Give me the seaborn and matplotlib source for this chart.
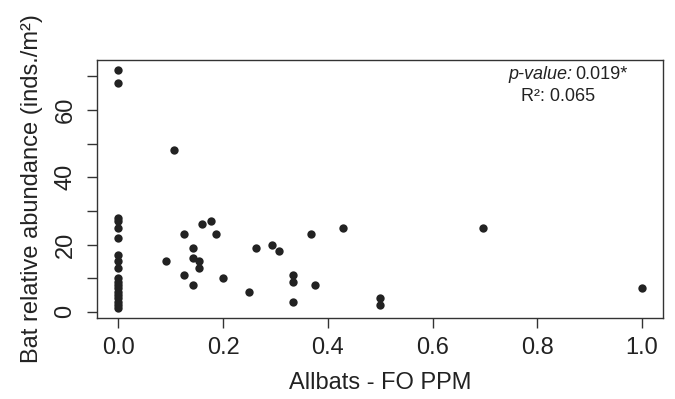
import pandas as pd
import matplotlib
matplotlib.use("Agg")
import matplotlib.pyplot as plt
import seaborn as sns

# data
fo_ppm = [0, 0, 0, 0, 0, 0, 0, 0, 0, 0, 0, 0, 0, 0, 0, 0, 0, 0, 0,
          0.091, 0.106, 0.125, 0.125, 0.1429, 0.1429, 0.1429, 0.1538, 0.1538,
          0.16, 0.1765, 0.1875, 0.2, 0.25, 0.2632, 0.2941, 0.3077,
          0.3333, 0.3333, 0.3333, 0.3684, 0.375, 0.4286, 0.5, 0.5,
          0.6964, 1.0]
abundance = [1, 2, 3, 4, 5, 6, 7, 8, 9, 10, 13, 15, 17, 22, 25, 27, 28, 68, 72,
             15, 48, 23, 11, 19, 16, 8, 15, 13,
             26, 27, 23, 10, 6, 19, 20, 18,
             11, 9, 3, 23, 8, 25, 4, 2,
             25, 7]
x_ticks = [0.0, 0.2, 0.4, 0.6, 0.8, 1.0]
x_tick_labels = ["0.0", "0.2", "0.4", "0.6", "0.8", "1.0"]
y_ticks = [0, 10, 20, 30, 40, 50, 60, 70]
y_tick_labels = ["0", "", "20", "", "40", "", "60", ""]
p_value = "0.019*"
r_squared = "0.065"

df = pd.DataFrame({"fo_ppm": fo_ppm, "abundance": abundance})

sns.set_style("white")
plt.rcParams["font.family"] = ["Liberation Sans", "DejaVu Sans"]
ink = "#222222"

fig = plt.figure(figsize=(6.75, 3.99), dpi=100)
ax = fig.add_axes([97.3 / 675, 1 - 318 / 399, 565.7 / 675, 258 / 399])

sns.scatterplot(data=df, x="fo_ppm", y="abundance", ax=ax,
                color=ink, s=36, edgecolor=ink, linewidth=0)

ax.set_xlim(-0.04, 1.04)
ax.set_ylim(-1.84, 74.84)
ax.set_xticks(x_ticks)
ax.set_xticklabels(x_tick_labels)
ax.set_yticks(y_ticks)
ax.set_yticklabels(y_tick_labels, rotation=90, va="center")

for side in ["left", "right", "top", "bottom"]:
    ax.spines[side].set_visible(True)
    ax.spines[side].set_color("#333333")
    ax.spines[side].set_linewidth(1)

ax.tick_params(axis="both", which="both", direction="out", length=7,
               width=1, color="#333333", labelcolor=ink, labelsize=17,
               left=True, bottom=True)
ax.tick_params(axis="x", pad=7)
ax.tick_params(axis="y", pad=8)

ax.set_xlabel("Allbats - FO PPM", fontsize=17, color=ink, labelpad=9)
ax.set_ylabel("Bat relative abundance (inds./m²)", fontsize=17, color=ink,
              labelpad=8)

# stats annotation, top right
t1 = ax.text(0.726, 0.926, "p-value:", transform=ax.transAxes, fontsize=13,
             style="italic", color=ink, ha="left", va="baseline")
ax.annotate(p_value, xy=(1, 0), xycoords=t1, xytext=(2, 0),
            textcoords="offset points", fontsize=13,
            color=ink, ha="left", va="bottom")
ax.text(0.749, 0.843, "R²: " + r_squared, transform=ax.transAxes,
        fontsize=13, color=ink, ha="left", va="baseline")

fig.savefig("out.png", dpi=100)
